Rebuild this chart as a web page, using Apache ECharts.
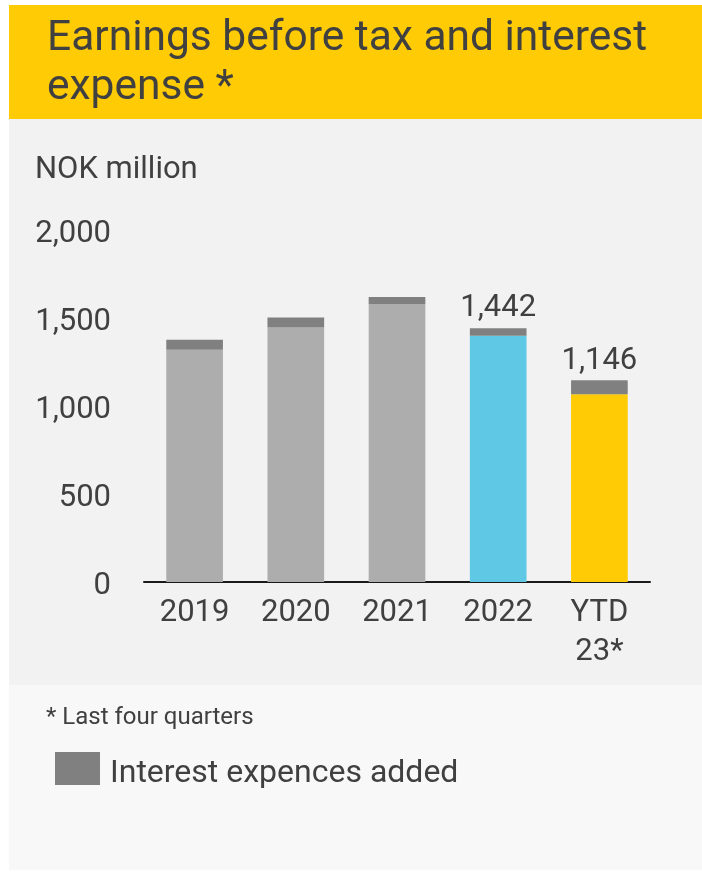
<!DOCTYPE html>
<html>
<head>
<meta charset="utf-8">
<script src="https://cdn.jsdelivr.net/npm/echarts@6/dist/echarts.min.js"></script>
<style>
html,body{margin:0;padding:0;background:#ffffff;}
#c{width:702px;height:873px;}
</style>
</head>
<body>
<div id="c"></div>
<script>
var categories = ['2019', '2020', '2021', '2022', 'YTD\n23*'];
var ebitValues = [1319, 1446, 1580, 1399, 1067];
var interestValues = [57, 57, 39, 43, 79];
var totalLabels = ['', '', '', '1,442', '1,146'];
var yTicks = [0, 500, 1000, 1500, 2000];
var barColors = ['#adadad', '#adadad', '#adadad', '#5ec8e5', '#ffcb05'];

var FONT = 'Roboto, "Noto Sans", sans-serif';
var TXT = '#404040';

var chart = echarts.init(document.getElementById('c'), null, {renderer: 'canvas'});
chart.setOption({
  animation: false,
  backgroundColor: '#ffffff',
  graphic: [
    {type: 'rect', z: -10, shape: {x: 9, y: 5, width: 693, height: 114}, style: {fill: '#ffcb05'}},
    {type: 'rect', z: -10, shape: {x: 9, y: 119, width: 693, height: 566}, style: {fill: '#f2f2f2'}},
    {type: 'rect', z: -10, shape: {x: 9, y: 685, width: 693, height: 185}, style: {fill: '#f8f8f8'}},
    {type: 'text', left: 47, top: 18, style: {text: 'Earnings before tax and interest', font: '42.5px ' + FONT, fill: TXT}},
    {type: 'text', left: 47, top: 67, style: {text: 'expense *', font: '42.5px ' + FONT, fill: TXT}},
    {type: 'text', left: 35, top: 155, style: {text: 'NOK million', font: '31px ' + FONT, fill: TXT}},
    {type: 'text', left: 46, top: 706, style: {text: '* Last four quarters', font: '24px ' + FONT, fill: TXT}}
  ],
  legend: {
    data: ['Interest expences added'],
    left: 55, top: 752,
    padding: 0,
    icon: 'rect',
    itemWidth: 45, itemHeight: 33,
    itemGap: 10,
    formatter: function (name) { return '{a|' + name + '}'; },
    textStyle: {
      color: TXT,
      rich: {a: {fontFamily: FONT, fontSize: 32, color: TXT, padding: [10, 0, 0, 5]}}
    },
    selectedMode: false
  },
  grid: {left: 144, right: 52, top: 230, bottom: 291, containLabel: false},
  xAxis: {
    type: 'category',
    data: categories,
    axisLine: {show: true, lineStyle: {color: '#1a1a1a', width: 2}},
    axisTick: {show: false},
    axisLabel: {fontFamily: FONT, fontSize: 31, color: TXT, margin: 12, lineHeight: 39}
  },
  yAxis: {
    type: 'value',
    min: yTicks[0], max: yTicks[yTicks.length - 1], interval: 500,
    axisLine: {show: false},
    axisTick: {show: false},
    splitLine: {show: false},
    axisLabel: {
      color: TXT, margin: 33,
      formatter: function (v) { return '{a|' + v.toLocaleString('en-US') + '}'; },
      rich: {a: {fontFamily: FONT, fontSize: 31, color: TXT, padding: [8, 0, 0, 0]}}
    }
  },
  series: [
    {
      name: 'EBIT',
      type: 'bar',
      stack: 'a',
      barWidth: '56%',
      data: ebitValues.map(function (v, i) { return {value: v, itemStyle: {color: barColors[i]}}; })
    },
    {
      name: 'Interest expences added',
      type: 'bar',
      stack: 'a',
      itemStyle: {color: '#808080'},
      data: interestValues,
      label: {
        show: true, position: 'top', distance: 4,
        fontFamily: FONT, fontSize: 31, color: TXT,
        formatter: function (p) { return totalLabels[p.dataIndex]; }
      }
    }
  ]
});
</script>
</body>
</html>
